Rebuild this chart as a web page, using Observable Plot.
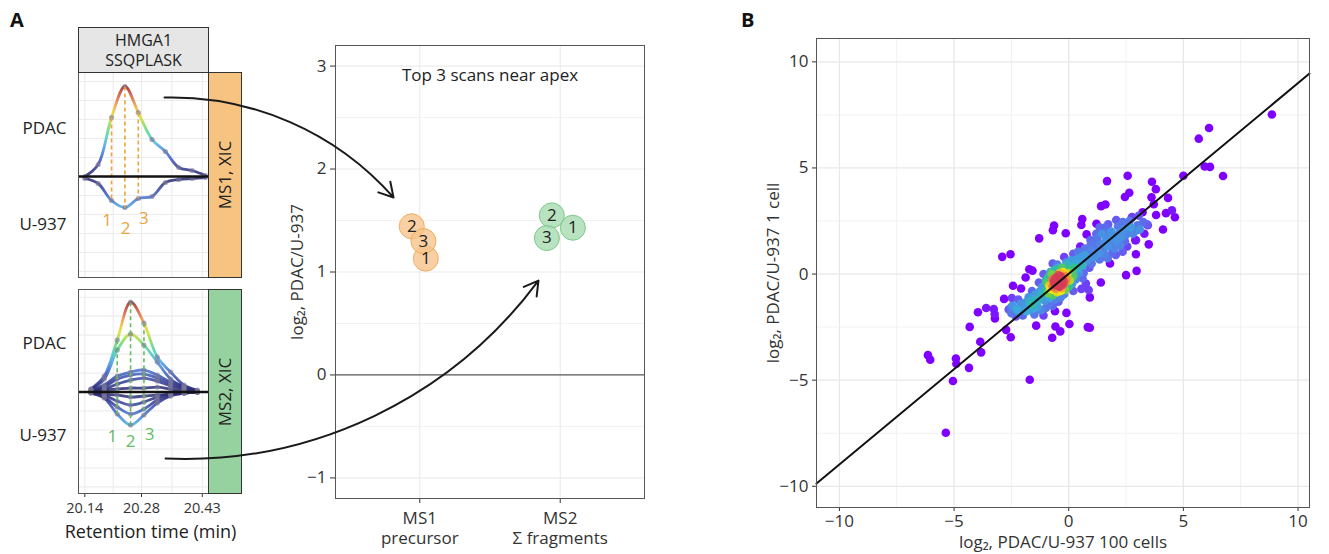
<!DOCTYPE html>
<html><head><meta charset="utf-8">
<script src="https://cdn.jsdelivr.net/npm/d3@7"></script>
<script src="https://cdn.jsdelivr.net/npm/@observablehq/plot@0.6"></script>
<style>
body{margin:0;background:#fff;font-family:"Open Sans",sans-serif;color:#222;}
#root{position:relative;width:1329px;height:554px;overflow:hidden;background:#fff;}
.abs{position:absolute;}
.strip{position:absolute;box-sizing:border-box;border:1.3px solid #333;display:flex;align-items:center;justify-content:center;color:#222;font-size:16px;line-height:20px;text-align:center;}
.rot{transform:rotate(-90deg);white-space:nowrap;font-size:17px;}
.tag{position:absolute;font-weight:bold;font-size:20px;color:#111;}
</style></head><body><div id="root"></div><script>
// ---------------- data ----------------
const panelTags = ["A", "B"];
const headerLines = ["HMGA1", "SSQPLASK"];
const stripLabels = ["MS1, XIC", "MS2, XIC"];
const sampleLabels = ["PDAC", "U-937"];
const ms1SampleTicks = [0.48, -0.48];
const ms2SampleTicks = [0.49, -0.44];
const rtTicks = [20.14, 20.28, 20.43];
const rtTitle = "Retention time (min)";

// MS1 precursor XIC (relative intensity; U-937 mirrored below)
const ms1Rt = [20.140, 20.173, 20.206, 20.239, 20.272, 20.306, 20.339, 20.372, 20.405, 20.438];
const ms1Pdac = [0.00, 0.12, 0.59, 0.90, 0.64, 0.37, 0.25, 0.09, 0.06, 0.01];
const ms1U937 = [-0.02, -0.07, -0.24, -0.31, -0.22, -0.20, -0.06, -0.03, -0.02, -0.01];
const ms1ScanIdx = [2, 3, 4];
const scanNames = ["1", "2", "3"];
const ms1ScanLabelRt = [20.195, 20.241, 20.286];
const ms1ScanLabelY = [-0.44, -0.52, -0.42];

// MS2 fragment XICs
const ms2Rt = [20.155, 20.188, 20.220, 20.253, 20.286, 20.319, 20.352, 20.385, 20.418];
const ms2PdacFrag1 = [0.03, 0.16, 0.52, 0.90, 0.69, 0.35, 0.20, 0.07, 0.02];
const ms2PdacFrag2 = [0.03, 0.13, 0.42, 0.58, 0.47, 0.30, 0.13, 0.05, 0.01];
const ms2PdacFrag3 = [0.02, 0.07, 0.16, 0.20, 0.22, 0.17, 0.10, 0.06, 0.01];
const ms2PdacFrag4 = [0.01, 0.05, 0.13, 0.17, 0.18, 0.14, 0.08, 0.04, 0.01];
const ms2PdacFrag5 = [0.01, 0.03, 0.08, 0.12, 0.14, 0.11, 0.06, 0.03, 0.00];
const ms2PdacFrag6 = [0.00, 0.02, 0.03, 0.04, 0.04, 0.05, 0.03, 0.01, 0.00];
const ms2U937Frag1 = [-0.01, -0.06, -0.22, -0.33, -0.23, -0.11, -0.04, -0.01, 0.00];
const ms2U937Frag2 = [-0.01, -0.05, -0.15, -0.22, -0.17, -0.08, -0.03, -0.01, 0.00];
const ms2U937Frag3 = [0.00, -0.03, -0.09, -0.13, -0.10, -0.05, -0.02, -0.01, 0.00];
const ms2U937Frag4 = [0.00, -0.02, -0.03, -0.05, -0.04, -0.03, -0.02, -0.01, 0.00];
const ms2ScanIdx = [2, 3, 4];
const ms2ScanLabelRt = [20.208, 20.253, 20.300];
const ms2ScanLabelY = [-0.45, -0.50, -0.43];

// middle panel: log2 ratios of the top 3 scans
const ratioCats = [1, 2];
const ratioCatLabels = ["MS1\nprecursor", "MS2\nΣ fragments"];
const ratioTicks = [-1, 0, 1, 2, 3];
const ratioTitle = "Top 3 scans near apex";
const ratioYLabel = "log₂, PDAC/U-937";
const ms1ScanX = [1.043, 0.943, 1.026];
const ms1ScanRatio = [1.13, 1.444, 1.30];
const ms2ScanX = [2.09, 1.94, 1.905];
const ms2ScanRatio = [1.43, 1.55, 1.33];
// arrows (in middle-panel coordinates)
const arrowFromX = [-0.8175, -0.81];
const arrowFromY = [2.695, -0.812];
const arrowToX = [0.813, 1.845];
const arrowToY = [1.724, 0.917];

// panel B: log2 PDAC/U-937, 100 cells (x) vs 1 cell (y)
const bXLabel = "log₂, PDAC/U-937 100 cells";
const bYLabel = "log₂, PDAC/U-937 1 cell";
const bTicks = [-10, -5, 0, 5, 10];
const bMinor = [-7.5, -2.5, 2.5, 7.5];
const fitX = [-11, 10.5];
const fitY = [-9.87, 9.45];
const ratioPairs = [
 // dense core
 [-0.45,-0.35],[-0.5,-0.3],[-0.4,-0.4],[-0.55,-0.45],[-0.35,-0.25],[-0.6,-0.5],[-0.3,-0.45],[-0.5,-0.15],
 [-0.25,-0.2],[-0.65,-0.35],[-0.4,-0.6],[-0.7,-0.6],[-0.2,-0.35],[-0.45,-0.05],[-0.55,-0.7],[-0.35,-0.1],
 [-0.15,-0.1],[-0.75,-0.45],[-0.3,-0.65],[-0.6,-0.2],[-0.1,-0.25],[-0.5,-0.55],[-0.4,-0.2],[-0.25,-0.5],
 [-0.65,-0.75],[-0.2,0.0],[-0.8,-0.7],[-0.05,0.05],[-0.35,-0.8],[-0.7,-0.25],[-0.45,-0.5],[-0.55,-0.25],
 [-0.3,-0.3],[-0.15,-0.4],[-0.6,-0.65],[-0.4,0.05],[-0.85,-0.55],[-0.1,-0.05],[-0.5,-0.85],[-0.25,0.1],
 // yellow / green ring
 [0.0,0.2],[0.15,0.1],[-0.9,-0.9],[-1.0,-0.8],[0.1,0.35],[-1.1,-1.05],[0.25,0.3],[-0.95,-0.4],[0.05,-0.3],
 [-0.3,0.3],[-0.75,0.0],[-0.15,-0.75],[0.3,0.5],[-1.2,-0.95],[0.2,-0.1],[-0.6,0.2],[-1.05,-1.25],[0.4,0.25],
 [-0.2,-0.95],[-0.85,-1.1],[0.35,0.7],[-0.05,0.45],[-1.3,-1.2],[0.5,0.55],[-0.7,-1.0],[-0.45,0.3],[0.15,-0.45],
 [-1.15,-0.6],[0.55,0.8],[-0.9,-0.15],[0.45,0.05],[-1.4,-1.35],[0.6,0.4],[-0.35,-1.1],[0.1,0.65],[-0.6,-1.2],
 [0.7,0.9],[-1.25,-0.8],[-0.1,0.55],[0.3,-0.25],[-1.5,-1.2],[0.8,0.65],[-0.5,0.45],[0.0,-0.6],[-0.8,0.1],
 // cyan / blue band
 [-1.6,-1.45],[-1.7,-1.3],[-1.5,-1.6],[-1.8,-1.5],[-1.9,-1.35],[-1.65,-1.7],[-1.35,-1.55],[-2.0,-1.6],
 [-1.45,-0.95],[-1.2,-1.7],[-2.1,-1.4],[-1.55,-1.1],[-0.9,-1.45],[-0.7,-1.5],[-1.75,-1.1],[-2.2,-1.75],
 [-1.0,-1.6],[-0.45,-1.3],[0.2,-0.8],[0.6,-0.2],[0.65,0.05],[0.9,0.3],[0.85,0.95],[1.0,1.1],[1.1,0.8],
 [1.2,1.25],[0.95,1.35],[1.3,1.0],[1.4,1.4],[0.7,1.2],[1.5,1.15],[1.15,1.5],[0.4,1.05],[0.2,0.95],[-0.2,0.8],
 [1.6,1.55],[1.35,0.7],[1.0,0.5],[0.75,-0.45],[1.7,1.3],[0.5,1.3],[-0.7,0.5],[-1.1,0.0],[-1.3,-0.4],
 [1.8,1.7],[1.25,1.7],[0.55,-0.7],[-1.0,-0.3],[-1.6,-0.8],[0.95,1.6],
 // blue-purple, upper right of the cloud
 [1.9,1.45],[2.0,1.8],[2.1,1.6],[1.85,2.0],[2.2,1.95],[2.3,1.75],[2.0,1.2],[2.4,2.1],[2.5,1.85],[2.15,2.25],
 [2.6,2.0],[2.45,1.55],[1.7,1.9],[2.7,2.2],[2.35,2.4],[2.55,1.3],[2.8,1.9],[1.55,0.95],[1.45,1.9],[2.25,1.35],
 [1.9,1.0],[2.65,2.5],[1.6,2.2],[1.2,1.9],[1.35,2.2],[3.0,2.3],[2.9,1.6],[3.1,2.1],[1.7,0.75],[2.05,0.9],
 [2.75,2.65],[3.05,2.75],[3.25,2.45],[3.45,2.3],[2.95,2.05],[2.35,1.05],[3.3,1.9],[1.34,0.70],
 // lower-left of the cloud
 [-2.3,-2.0],[-2.0,-1.95],[-1.85,-1.75],[-2.45,-1.5],[-2.2,-1.2],[-1.5,-1.9],[-1.1,-1.95],[-0.6,-1.75],[-2.5,-1.85],
 // outliers, upper
 [8.86,7.52],[6.12,6.88],[5.67,6.38],[5.93,5.07],[6.16,5.05],[6.73,4.62],[5.0,4.63],[2.57,4.63],[1.67,4.38],
 [3.63,4.35],[3.8,4.0],[2.64,3.83],[2.45,3.63],[3.61,3.62],[4.33,3.59],[1.41,3.2],[1.6,3.28],[3.71,3.29],
 [4.24,2.87],[4.5,3.0],[4.63,2.68],[3.81,2.78],[4.11,2.1],[3.41,2.34],[3.22,2.91],[2.76,2.69],[2.07,2.55],
 [2.36,2.45],[1.72,2.34],[1.21,2.37],[0.59,2.59],[0.55,2.31],[-0.64,2.29],[-0.69,2.07],[-1.29,1.68],
 [-0.13,1.92],[0.78,1.87],[3.49,1.40],[2.93,1.59],[2.93,0.93],[1.80,0.50],[2.50,-0.05],[2.96,0.15],
 [-2.90,0.81],[-2.54,0.93],[-1.72,0.23],[-1.58,0.16],[-1.88,-0.16],[-2.43,-0.55],[-2.08,-0.68],[1.40,-0.40],
 [0.87,-0.75],[-2.51,-1.56],
 // outliers, lower
 [-5.36,-7.48],[-1.70,-4.98],[-4.90,-4.23],[-5.05,-5.04],[-4.35,-4.42],[-4.92,-3.98],[-6.14,-3.82],[-6.04,-4.04],
 [-3.82,-3.69],[-3.86,-3.19],[-4.32,-2.49],[-2.73,-2.63],[-2.53,-2.98],[-1.42,-2.43],[-3.96,-1.80],[-3.60,-1.60],
 [-3.27,-1.65],[-3.23,-1.88],[-3.22,-2.09],[-2.82,-1.17],[-2.48,-1.13],[-2.62,-1.67],[-2.26,-1.66],[-0.72,-3.0],
 [-0.58,-2.47],[-0.37,-2.7],[0.03,-2.35],[-0.10,-1.83],[0.92,-2.53],[0.92,-1.1],[0.83,-2.5]
];
// density colour stops (neighbour count -> colour)
const densityStops = [0, 1.5, 3.5, 7, 10, 13, 16, 19, 23, 28];
const densityPalette = ["#7f00ff","#7f00ff","#6a55f2","#4f86e6","#3aa9dc","#2ec28a","#8fd42a","#f2e414","#f6a432","#d63c55"];
const intensityPalette = ["#2b2a6b","#34398c","#3e55b4","#4a7cd8","#4fa8e2","#4ccdc4","#5ad88a","#a6dc46","#e6e02e","#f2b23a","#e07850","#c04a38","#8a1c14"];

// ---------------- helpers ----------------
const FONT = "'Open Sans', sans-serif";
const root = document.getElementById("root");
function put(el, left, top) { el.classList.add("abs"); el.style.left = left + "px"; el.style.top = top + "px"; root.appendChild(el); return el; }
function div(cls, html) { const d = document.createElement("div"); d.className = cls; d.innerHTML = html; return d; }
const minusFmt = d => (d < 0 ? "\u2212" + Math.abs(d) : String(d));

const xicXDom = [20.1244, 20.4454];
const rtGrid = [20.14, 20.21, 20.28, 20.355, 20.43];
const intGrid = [-0.95, -0.76, -0.57, -0.38, -0.19, 0.19, 0.38, 0.57, 0.76, 0.95];
const intensityRamp = d3.piecewise(d3.interpolateRgb, intensityPalette);
function intensityColor(a) { return intensityRamp(Math.min(1, a / 0.92)); }

function xicPanel(o) {
  const rows = [];
  o.pos.forEach((s, k) => s.forEach((v, i) => rows.push({rt: o.rt[i], v, series: "p" + k})));
  o.neg.forEach((s, k) => s.forEach((v, i) => rows.push({rt: o.rt[i], v, series: "n" + k})));
  const dash = o.dashIdx.map(i => ({rt: o.rt[i], top: o.pos[0][i], bot: o.neg[0][i]}));
  const labs = scanNames.map((t, i) => ({t, rt: o.labRt[i], v: o.labY[i]}));
  const svg = Plot.plot({
    width: 208, height: o.h + o.mb, marginLeft: 78, marginRight: 0, marginTop: 0, marginBottom: o.mb,
    style: {fontFamily: FONT, fontSize: "14.5px", color: "#333", background: "transparent", overflow: "visible"},
    x: {domain: xicXDom, ticks: rtTicks, tickFormat: d => d.toFixed(2), tickSize: 4, axis: o.showX ? "bottom" : null, label: null},
    y: {domain: o.yDom, axis: null},
    marks: [
      Plot.ruleX(rtGrid, {stroke: "#ececec", strokeWidth: 1.1}),
      Plot.ruleY(intGrid, {stroke: "#ececec", strokeWidth: 1.1}),
      Plot.line(rows, {x: "rt", y: "v", z: "series", stroke: `url(#${o.gid})`, strokeWidth: 2.8, strokeOpacity: 0.88, curve: "catmull-rom"}),
      Plot.dot(rows, {x: "rt", y: "v", r: 2.6, fill: "#7a7698", fillOpacity: 0.6}),
      Plot.link(dash, {x1: "rt", x2: "rt", y1: "top", y2: "bot", stroke: o.accent, strokeWidth: 1.6, strokeDasharray: "4,3"}),
      Plot.ruleY([0], {stroke: "#111", strokeWidth: 2.6}),
      Plot.text(labs, {x: "rt", y: "v", text: "t", fill: o.accent, fontSize: 17}),
      Plot.text(o.sampleTicks, {y: d => d, frameAnchor: "left", dx: -12, textAnchor: "end", text: (d, i) => sampleLabels[i], fontSize: 17, fill: "#222"}),
      o.showX ? Plot.text([rtTitle], {frameAnchor: "bottom", dy: 44, dx: 7, fontSize: 18, fill: "#222"}) : null,
      Plot.frame({stroke: "#555"})
    ]
  });
  // intensity colour ramp along y (symmetric about the baseline)
  const yPix = d3.scaleLinear(o.yDom, [o.h, 0]);
  const defs = d3.select(svg).insert("defs", ":first-child");
  const g = defs.append("linearGradient").attr("id", o.gid).attr("gradientUnits", "userSpaceOnUse")
    .attr("x1", 0).attr("x2", 0).attr("y1", yPix(1)).attr("y2", yPix(-1));
  for (let i = 0; i <= 40; i++) g.append("stop").attr("offset", i / 40).attr("stop-color", intensityColor(Math.abs(1 - i / 20)));
  return svg;
}

// ---------------- panel A: XICs ----------------
put(div("tag", panelTags[0]), 10, 6);
put(div("tag", panelTags[1]), 741, 6);

put(xicPanel({
  rt: ms1Rt, pos: [ms1Pdac], neg: [ms1U937], dashIdx: ms1ScanIdx, labRt: ms1ScanLabelRt, labY: ms1ScanLabelY,
  h: 205, mb: 0, yDom: [-1.01, 1.04], gid: "gradMS1", accent: "#f0a23c", sampleTicks: ms1SampleTicks, showX: false
}), 0, 72);
put(xicPanel({
  rt: ms2Rt, pos: [ms2PdacFrag1, ms2PdacFrag2, ms2PdacFrag3, ms2PdacFrag4, ms2PdacFrag5, ms2PdacFrag6],
  neg: [ms2U937Frag1, ms2U937Frag2, ms2U937Frag3, ms2U937Frag4], dashIdx: ms2ScanIdx, labRt: ms2ScanLabelRt, labY: ms2ScanLabelY,
  h: 204, mb: 61, yDom: [-1.016, 1.027], gid: "gradMS2", accent: "#62bd62", sampleTicks: ms2SampleTicks, showX: true
}), 0, 289);

const header = div("strip", headerLines.join("<br>"));
header.style.width = "131px"; header.style.height = "46px"; header.style.background = "#e6e6e6";
put(header, 78, 27);
const s1 = div("strip", `<span class="rot">${stripLabels[0]}</span>`);
s1.style.width = "34px"; s1.style.height = "206px"; s1.style.background = "#f6c380";
put(s1, 208, 72);
const s2 = div("strip", `<span class="rot">${stripLabels[1]}</span>`);
s2.style.width = "34px"; s2.style.height = "205px"; s2.style.background = "#95d29f";
put(s2, 208, 289);

// ---------------- panel A: ratio plot ----------------
const ms1Pts = scanNames.map((s, i) => ({s, x: ms1ScanX[i], y: ms1ScanRatio[i]}));
const ms2Pts = scanNames.map((s, i) => ({s, x: ms2ScanX[i], y: ms2ScanRatio[i]}));
const arrow1 = [{x1: arrowFromX[0], y1: arrowFromY[0], x2: arrowToX[0], y2: arrowToY[0]}];
const arrow2 = [{x1: arrowFromX[1], y1: arrowFromY[1], x2: arrowToX[1], y2: arrowToY[1]}];
const mid = Plot.plot({
  width: 394, height: 15 + 453 + 62, marginLeft: 75, marginRight: 10, marginTop: 15, marginBottom: 62,
  style: {fontFamily: FONT, fontSize: "17px", color: "#333", background: "transparent", overflow: "visible"},
  x: {domain: [0.4, 2.6], ticks: ratioCats, tickFormat: () => "", tickSize: 5, tickPadding: 4, label: null},
  y: {domain: [-1.2, 3.2], ticks: ratioTicks, tickFormat: minusFmt, tickSize: 5, tickPadding: 4, label: ratioYLabel, labelAnchor: "center", labelArrow: "none", labelOffset: 45},
  marks: [
    Plot.ruleY([-0.5, 0.5, 1.5, 2.5], {stroke: "#f3f3f3"}),
    Plot.ruleY([-1, 1, 2, 3], {stroke: "#ebebeb", strokeWidth: 1.1}),
    Plot.ruleX(ratioCats, {stroke: "#ebebeb", strokeWidth: 1.1}),
    Plot.ruleY([0], {stroke: "#555", strokeWidth: 1.2}),
    Plot.frame({stroke: "#555"}),
    Plot.text(ratioCats, {x: d => d, frameAnchor: "bottom", dy: 11, lineAnchor: "top", lineHeight: 1.2, text: (d, i) => ratioCatLabels[i], fontSize: 17, fill: "#333"}),
    Plot.text([ratioTitle], {frameAnchor: "top", dy: 23, fontSize: 17, fill: "#222"}),
    Plot.dot(ms1Pts, {x: "x", y: "y", r: 12.5, fill: "#f6c48c", fillOpacity: 0.8, stroke: "#f0ae5e", strokeWidth: 1}),
    Plot.dot(ms2Pts, {x: "x", y: "y", r: 12.5, fill: "#a8dcb0", fillOpacity: 0.8, stroke: "#7cc88a", strokeWidth: 1}),
    Plot.text(ms1Pts, {x: "x", y: "y", text: "s", fontSize: 17, fill: "#222"}),
    Plot.text(ms2Pts, {x: "x", y: "y", text: "s", fontSize: 17, fill: "#222"}),
    Plot.arrow(arrow1, {x1: "x1", y1: "y1", x2: "x2", y2: "y2", bend: 25, stroke: "#1a1a1a", strokeWidth: 2, headLength: 12}),
    Plot.arrow(arrow2, {x1: "x1", y1: "y1", x2: "x2", y2: "y2", bend: -28, stroke: "#1a1a1a", strokeWidth: 2, headLength: 12})
  ]
});
put(mid, 260, 30);

// ---------------- panel B: scatter ----------------
const pts = ratioPairs.map(([x, y]) => ({x, y}));
pts.forEach(p => { p.n = pts.filter(q => Math.hypot(q.x - p.x, q.y - p.y) < 0.42).length - 1; });
pts.sort((a, b) => a.n - b.n);
const fitLine = fitX.map((x, i) => ({x, y: fitY[i]}));
const B = Plot.plot({
  width: 571, height: 524, marginLeft: 68, marginRight: 10, marginTop: 8, marginBottom: 47,
  style: {fontFamily: FONT, fontSize: "17px", color: "#333", background: "transparent", overflow: "visible"},
  x: {domain: [-11, 10.5], ticks: bTicks, tickFormat: minusFmt, tickSize: 4, tickPadding: 3, label: bXLabel, labelAnchor: "center", labelArrow: "none", labelOffset: 40},
  y: {domain: [-11, 11.1], ticks: bTicks, tickFormat: minusFmt, tickSize: 4, tickPadding: 4, label: bYLabel, labelAnchor: "center", labelArrow: "none", labelOffset: 50},
  color: {type: "linear", domain: densityStops, range: densityPalette, clamp: true},
  marks: [
    Plot.ruleX(bMinor, {stroke: "#f2f2f2", strokeWidth: 1}),
    Plot.ruleY(bMinor, {stroke: "#f2f2f2", strokeWidth: 1}),
    Plot.ruleX(bTicks, {stroke: "#e8e8e8", strokeWidth: 1.3}),
    Plot.ruleY(bTicks, {stroke: "#e8e8e8", strokeWidth: 1.3}),
    Plot.dot(pts, {x: "x", y: "y", r: 4.3, fill: "n", stroke: null}),
    Plot.line(fitLine, {x: "x", y: "y", stroke: "#111", strokeWidth: 2}),
    Plot.frame({stroke: "#555"})
  ]
});
put(B, 748, 30);
</script></body></html>
